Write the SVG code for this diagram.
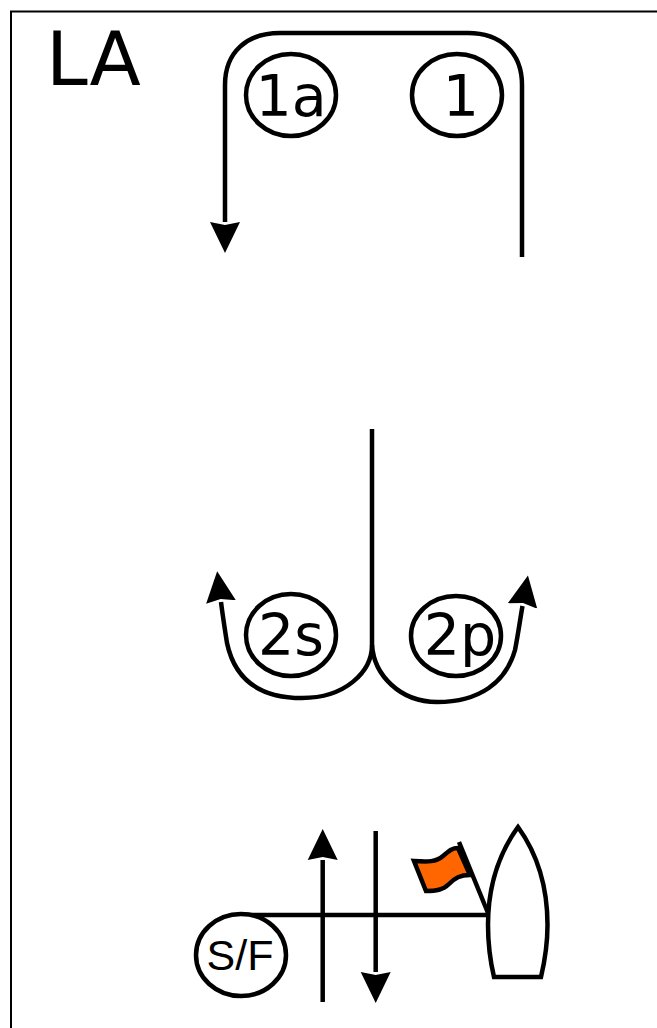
<svg xmlns="http://www.w3.org/2000/svg" width="657" height="1028" viewBox="0 0 657 1028">
<style>
.ln{fill:none;stroke:#000;stroke-width:4.500}
.nd{fill:#fff;stroke:#000;stroke-width:4.500}
.t{font-family:"DejaVu Sans",sans-serif;font-size:57px;text-anchor:middle;fill:#000}
</style>
<defs>
<marker id="arrow" markerUnits="userSpaceOnUse" markerWidth="34" markerHeight="34" refX="0" refY="16" orient="auto" viewBox="0 0 34 34">
<path d="M0,1 L31,16 L0,31 L3,16 Z" fill="#000"/>
</marker>
</defs>
<rect width="657" height="1028" fill="#fff"/>
<path id="frame" d="M11,1028 V11.500 H657" fill="none" stroke="#000" stroke-width="2"/>
<text id="title" x="46" y="84.500" font-family="'DejaVu Sans',sans-serif" font-size="75">LA</text>
<g id="connectors">
<path class="ln" d="M522,257 V85 C522,52 500,33 468,33 H280 C247,33 225,52 225,85 V222" marker-end="url(#arrow)"/>
<path class="ln" d="M372,429 V645"/>
<path class="ln" d="M372,645 C372,672 345,698 302,698 C256,698 234,676 227,643 C225,630 223,618 221,602" marker-end="url(#arrow)"/>
<path class="ln" d="M372,645 C374,675 400,702 437,702 C480,702 506,682 515,650 C518,635 520,620 522.500,606" marker-end="url(#arrow)"/>
<path class="ln" d="M241,915 H490"/>
<path class="ln" d="M322.700,1002 V860" marker-end="url(#arrow)"/>
<path class="ln" d="M375.700,831 V972" marker-end="url(#arrow)"/>
</g>
<g id="node-1a"><ellipse class="nd" cx="291" cy="95" rx="45" ry="41"/><text class="t" x="291" y="115.500">1a</text></g>
<g id="node-1"><ellipse class="nd" cx="457" cy="95" rx="45" ry="41"/><text class="t" x="461" y="115.500">1</text></g>
<g id="node-2s"><ellipse class="nd" cx="291" cy="635" rx="45" ry="41"/><text class="t" x="291" y="655">2s</text></g>
<g id="node-2p"><ellipse class="nd" cx="456" cy="636" rx="45" ry="40"/><text class="t" x="460" y="655">2p</text></g>
<g id="node-sf"><ellipse class="nd" cx="241" cy="955" rx="45" ry="41"/><text x="240" y="970" font-family="'Liberation Sans',sans-serif" font-size="43" text-anchor="middle">S/F</text></g>
<g id="node-boat">
<path class="ln" d="M459,842 L488,913"/>
<path d="M414,861 C428,862 436,862 443,856 C449,851 452,848 458,848 L470,875 C460,875 455,878 449,884 C443,890 436,891 426,891 Z" fill="#ff6600" stroke="#000" stroke-width="4.500"/>
<path class="nd" d="M518,827 C500,852 488,885 488,925 C488,945 490,960 494,977 H541 C545,960 547.500,945 547.500,925 C547.500,885 536,852 518,827 Z"/>
</g>
</svg>
